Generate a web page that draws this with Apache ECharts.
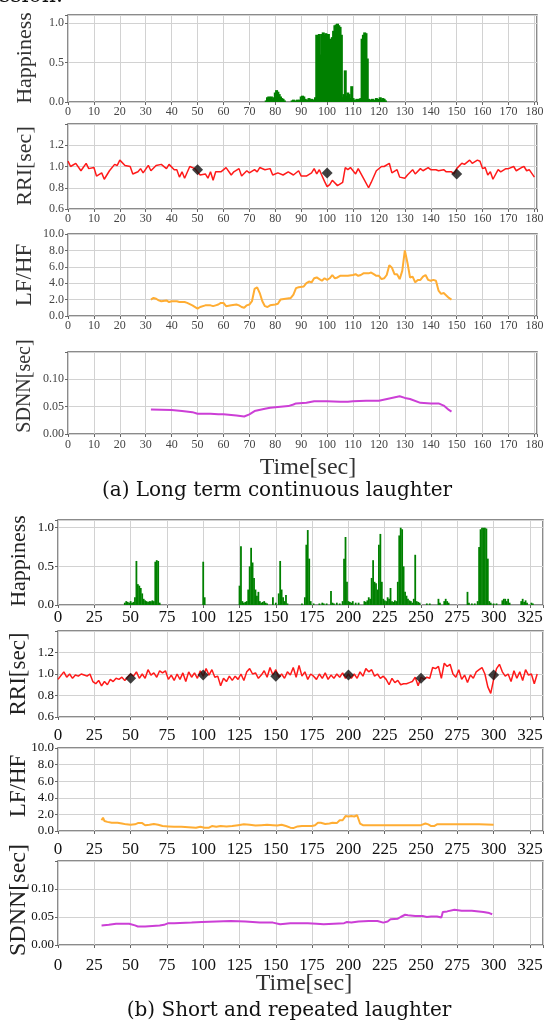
<!DOCTYPE html>
<html><head><meta charset="utf-8">
<script src="https://cdn.jsdelivr.net/npm/echarts/dist/echarts.min.js"></script>
<style>html,body{margin:0;padding:0;background:#fff;}#c{width:554px;height:1030px;}</style>
</head><body><div id="c"></div>
<script>
// ---------------- DATA ----------------
// (a) Long term continuous laughter
const happyA_t = [76.5,77,77.5,78,78.5,79,79.5,80,80.5,81,81.5,82,82.5,83,83.5,
86.5,87,87.5,88,88.5,89,89.5,90,90.5,91,91.5,92,92.5,93,93.5,94,94.5,95,95.5,
96,96.5,97,97.5,98,98.5,99,99.5,100,100.5,101,101.5,102,102.5,103,103.5,104,104.5,105,105.5,
106,106.5,107,107.5,108,108.5,109,109.5,110,110.5,111,111.5,112,112.5,113,113.5,114,114.5,115,115.5,
116,116.5,117,117.5,118,118.5,119,119.5,120,120.5,121,121.5,122,122.5];
const happyA_v = [0.02,0.06,0.07,0.05,0.07,0.04,0.06,0.12,0.15,0.13,0.10,0.07,0.05,0.04,0.02,
0.02,0.03,0.02,0.01,0.03,0.02,0.03,0.07,0.08,0.07,0.04,0.03,0.03,0.05,0.03,0.04,0.03,0.03,0.06,
0.85,0.84,0.86,0.60,0.86,0.88,0.85,0.87,0.82,0.86,0.80,0.78,0.82,0.90,0.97,0.98,0.99,0.97,0.95,0.85,
0.06,0.10,0.40,0.08,0.12,0.10,0.05,0.20,0.05,0.03,0.02,0.04,0.03,0.04,0.05,0.80,0.85,0.88,0.87,0.55,
0.04,0.03,0.03,0.04,0.02,0.03,0.05,0.04,0.03,0.06,0.03,0.05,0.04,0.02];

const rriA_t = [0,1,3,5,7,8,10,11,13,14,16,18,19,20,22,24,25,27,28,29,31,32,34,36,38,39,41,42,43,44,45,47,49,51,53,54,55,56,57,59,61,63,64,66,67,69,70,72,73,74,76,78,79,81,83,85,87,89,90,92,94,95,96,97,99,100,101,102,104,106,107,108,109,111,112,114,116,117,119,121,122,124,125,127,128,130,131,133,134,136,137,139,140,142,143,145,146,148,149,150,152,153,155,156,158,159,160,161,162,163,164,166,167,169,170,172,173,175,176,177,178,180];
const rriA_v = [1.05,1.00,1.03,0.96,1.03,0.98,0.99,0.91,0.94,0.88,0.96,1.02,1.01,1.06,1.01,1.00,0.93,0.95,0.98,0.94,1.01,0.96,1.01,1.02,0.98,1.02,0.97,0.97,0.90,0.95,0.89,1.00,0.98,0.92,0.93,0.89,0.95,0.87,0.95,0.95,0.99,0.92,0.95,0.98,0.91,0.96,0.94,0.97,0.95,0.99,0.97,0.98,0.92,0.94,0.92,0.95,0.92,0.96,0.91,0.91,0.94,0.98,0.93,0.97,0.86,0.81,0.83,0.87,0.82,0.85,0.99,0.97,0.99,0.93,0.98,0.89,0.80,0.85,0.96,1.00,1.00,1.03,0.94,0.97,0.90,0.89,0.92,0.97,0.93,0.98,0.96,0.99,0.97,0.97,0.96,0.97,0.95,0.95,0.93,0.98,1.03,1.02,1.06,1.03,1.06,1.05,0.98,0.99,0.92,0.95,0.88,0.97,0.95,0.98,0.98,1.00,0.96,0.99,1.00,0.96,0.97,0.90];
const markA_t = [50,100,150];
const markA_v = [0.97,0.94,0.93];

const lfhfA_t = [32,33,34,35,36,38,39,40,42,43,45,46,48,50,51,53,55,56,57,58,59,60,61,63,65,66,67,68,69,70,71,72,73,74,75,76,77,78,80,81,82,84,86,87,88,89,91,92,93,94,95,96,97,98,99,100,101,102,103,104,105,107,108,110,111,112,113,114,116,117,118,119,120,121,122,123,124,125,126,127,128,129,130,131,132,133,134,135,136,137,138,139,140,141,142,143,144,145,146,147,148];
const lfhfA_v = [2.0,2.2,2.1,1.9,1.8,1.9,1.7,1.8,1.8,1.7,1.7,1.6,1.3,0.9,1.1,1.3,1.3,1.2,1.3,1.4,1.6,1.6,1.2,1.3,1.4,1.3,1.1,1.0,1.3,1.4,1.8,3.3,3.5,2.8,1.8,1.2,1.1,1.3,1.4,1.5,2.0,2.1,2.2,2.6,3.4,3.5,3.6,4.0,4.2,4.1,4.6,4.7,4.5,4.3,4.6,4.4,4.6,5.0,4.6,4.7,4.9,4.9,4.9,5.0,5.1,4.9,5.0,5.2,5.2,5.3,5.1,4.9,4.9,4.5,4.6,5.0,6.2,5.9,5.1,5.1,4.5,5.5,8.0,6.5,4.7,4.8,4.1,4.4,4.4,4.8,5.0,4.4,4.3,4.4,4.3,3.1,2.7,2.8,2.5,2.2,2.0];

const sdnnA_t = [32,40,44,48,50,55,58,60,65,68,70,72,76,78,80,85,87,88,92,95,100,105,108,110,115,120,124,128,130,132,136,140,143,145,147,148];
const sdnnA_v = [0.045,0.044,0.042,0.040,0.037,0.037,0.036,0.036,0.034,0.032,0.036,0.042,0.046,0.048,0.049,0.051,0.054,0.056,0.057,0.060,0.060,0.059,0.059,0.060,0.061,0.061,0.065,0.069,0.066,0.064,0.057,0.056,0.056,0.052,0.044,0.041];

// (b) Short and repeated laughter
const happyB_t = [46,47,48,49,50,51,52,53,54,55,56,57,58,59,60,61,62,63,64,65,66,67,68,69,70,
100,101,
125,126,127,128,129,130,131,132,133,134,135,136,137,138,139,140,141,142,143,144,148,150,152,153,154,155,156,157,158,
168,170,171,172,173,174,176,180,182,183,185,188,189,190,192,194,196,197,198,199,200,201,202,203,205,207,
211,212,213,214,215,216,217,218,219,220,221,222,223,224,225,226,227,228,229,230,231,232,233,234,235,236,237,238,239,240,241,242,243,244,245,246,247,248,249,
254,256,262,263,266,267,268,269,
282,283,285,287,289,290,291,292,293,294,295,296,297,298,300,302,
306,307,308,309,310,311,319,320,321,322,323,326,327];
const happyB_v = [0.03,0.05,0.04,0.03,0.05,0.03,0.04,0.10,0.57,0.27,0.25,0.22,0.15,0.08,0.06,0.05,0.04,0.05,0.05,0.06,0.05,0.56,0.58,0.57,0.03,
0.56,0.10,
0.25,0.76,0.05,0.03,0.04,0.05,0.20,0.50,0.74,0.55,0.35,0.20,0.12,0.17,0.05,0.03,0.04,0.05,0.03,0.02,0.10,0.03,0.15,0.57,0.20,0.10,0.05,0.13,0.02,
0.02,0.10,0.78,0.97,0.60,0.05,0.02,0.02,0.03,0.02,0.02,0.18,0.03,0.02,0.03,0.02,0.05,0.60,0.88,0.30,0.05,0.04,0.03,0.05,0.03,0.03,
0.05,0.04,0.06,0.10,0.08,0.35,0.58,0.30,0.28,0.20,0.78,0.92,0.30,0.08,0.06,0.05,0.10,0.08,0.22,0.05,0.04,0.06,0.05,0.30,0.90,1.00,0.98,0.50,0.17,0.12,0.08,0.06,0.05,0.03,0.08,0.65,0.05,0.04,0.03,
0.02,0.02,0.08,0.03,0.05,0.08,0.05,0.03,
0.17,0.03,0.02,0.02,0.05,0.75,0.98,1.00,1.00,1.00,0.99,0.60,0.05,0.03,0.02,0.02,
0.06,0.08,0.08,0.05,0.08,0.03,0.05,0.08,0.04,0.06,0.03,0.03,0.02];

const rriB_t = [0,4,6,8,10,12,14,16,18,20,22,24,26,28,30,32,34,36,38,40,42,44,46,48,50,52,54,56,58,60,62,64,66,68,70,72,74,76,78,80,82,84,86,88,90,92,94,96,98,100,102,104,106,108,110,112,114,116,118,120,122,124,126,128,130,132,134,136,138,140,142,144,146,148,150,152,154,156,158,160,162,164,166,168,170,172,174,176,178,180,182,184,186,188,190,192,194,196,198,200,202,204,206,208,210,212,214,216,218,220,222,224,226,228,230,232,234,236,238,240,242,244,246,248,250,252,254,256,258,260,262,264,266,268,270,272,274,276,278,280,282,284,286,288,290,292,294,296,298,300,302,304,306,308,310,312,314,316,318,320,322,324,326,328,330];
const rriB_v = [0.95,1.02,0.97,1.00,0.96,0.99,0.98,1.00,0.99,0.98,1.00,0.93,0.91,0.94,0.89,0.93,0.90,0.95,0.93,0.96,0.95,0.97,0.94,0.97,1.00,0.98,1.02,0.96,1.00,0.96,1.04,0.99,1.01,0.97,1.03,1.01,1.03,0.95,0.99,0.94,1.00,0.95,1.01,0.93,1.02,0.97,1.01,0.96,1.03,0.98,1.05,0.99,1.04,0.97,0.98,0.89,0.96,0.93,0.98,0.94,0.98,0.95,1.00,0.94,1.02,1.05,1.00,1.01,0.96,0.99,1.03,0.97,1.06,0.99,1.04,0.97,1.00,0.96,1.02,0.99,1.06,0.97,1.08,0.98,1.02,0.95,1.00,0.98,0.95,1.00,0.96,1.01,0.95,0.99,0.96,1.00,0.97,1.01,0.96,1.00,0.96,1.00,0.96,1.02,0.98,1.05,1.02,1.04,0.98,1.00,0.96,0.98,0.95,0.90,0.96,0.92,0.94,0.90,0.91,0.91,0.92,0.93,0.97,0.89,0.97,0.95,0.97,0.96,1.06,1.05,1.07,0.96,1.10,1.07,1.09,1.00,0.97,1.04,0.95,0.99,0.92,0.99,0.96,1.02,1.04,1.06,1.00,0.88,0.82,0.95,1.05,1.09,1.02,0.98,1.00,0.93,1.03,0.96,1.02,0.94,1.04,0.99,1.00,0.91,1.00];
const markB_t = [50,100,150,200,250,300];
const markB_v = [0.96,0.99,0.98,0.99,0.96,0.99];

const lfhfB_t = [30,31,32,34,37,41,44,47,50,53,55,58,60,63,66,69,72,76,80,85,90,95,98,101,104,106,109,112,116,120,124,128,132,136,140,144,148,151,154,157,160,162,165,168,172,175,177,179,181,184,187,189,192,194,196,198,200,202,204,206,208,210,215,220,230,240,250,253,255,257,259,261,270,280,290,300];
const lfhfB_v = [1.3,1.6,1.2,1.1,1.0,1.0,0.9,0.8,0.75,0.8,0.95,0.95,0.7,0.75,0.85,0.75,0.6,0.55,0.5,0.5,0.45,0.4,0.5,0.4,0.4,0.6,0.5,0.6,0.55,0.6,0.7,0.8,0.75,0.65,0.7,0.75,0.7,0.65,0.75,0.6,0.4,0.35,0.55,0.6,0.6,0.6,0.7,1.0,1.0,0.85,0.9,1.0,0.95,1.3,1.3,1.8,1.75,1.8,1.75,1.9,0.9,0.7,0.7,0.7,0.7,0.7,0.7,0.9,0.8,0.6,0.6,0.8,0.8,0.8,0.8,0.75];

const sdnnB_t = [30,35,40,45,49,53,55,60,65,70,73,76,80,92,99,109,119,129,139,148,153,160,172,178,183,190,197,199,202,207,214,220,224,227,229,234,236,239,241,246,251,254,257,261,264,265,268,273,278,285,293,297,299];
const sdnnB_v = [0.035,0.036,0.038,0.038,0.038,0.035,0.033,0.033,0.034,0.035,0.036,0.039,0.039,0.040,0.041,0.042,0.043,0.042,0.040,0.040,0.037,0.039,0.039,0.038,0.037,0.038,0.039,0.041,0.040,0.042,0.043,0.043,0.040,0.042,0.046,0.047,0.050,0.054,0.053,0.052,0.052,0.050,0.051,0.051,0.049,0.059,0.060,0.063,0.061,0.061,0.059,0.057,0.055];

// Axis tick settings
const xTicksA = {min: 0, max: 181, step: 10};
const xTicksB = {min: 0, max: 334, step: 25};
const yHappy = {min: 0, max: 1.1, step: 0.5, dec: 1, name: 'Happiness'};
const yRRI   = {min: 0.6, max: 1.4, step: 0.2, dec: 1, name: 'RRI[sec]', hideMax: true};
const yLFHF  = {min: 0, max: 10, step: 2, dec: 1, name: 'LF/HF'};
const ySDNN  = {min: 0, max: 0.15, step: 0.05, dec: 2, name: 'SDNN[sec]', hideMax: true};

// ---------------- CHART ----------------
const zip = (t, v) => t.map((x, i) => [x, v[i]]);
const SERIF = '"Liberation Serif","Times New Roman",serif';
const CAP = '"DejaVu Serif",serif';

const layout = [
  // panel a
  {left: 68, width: 469, top: 15,  height: 87, xt: xTicksA, yt: yHappy, xfs: 12, xm: 4, yfs: 12, lc: '#444', bw: 3},
  {left: 68, width: 469, top: 124, height: 85, xt: xTicksA, yt: yRRI,   xfs: 12, xm: 4, yfs: 12, lc: '#444'},
  {left: 68, width: 469, top: 234, height: 82, xt: xTicksA, yt: yLFHF,  xfs: 12, xm: 4, yfs: 12, lc: '#444'},
  {left: 68, width: 469, top: 352, height: 82, xt: xTicksA, yt: ySDNN,  xfs: 12, xm: 5, yfs: 12, lc: '#444'},
  // panel b
  {left: 58, width: 485, top: 520, height: 85, xt: xTicksB, yt: yHappy, xfs: 17, xm: 4, yfs: 13, lc: '#111', bw: 1.8},
  {left: 58, width: 485, top: 631, height: 86, xt: xTicksB, yt: yRRI,   xfs: 17, xm: 10, yfs: 13, lc: '#111'},
  {left: 58, width: 485, top: 748, height: 83, xt: xTicksB, yt: yLFHF,  xfs: 17, xm: 10, yfs: 13, lc: '#111'},
  {left: 58, width: 485, top: 861, height: 84, xt: xTicksB, yt: ySDNN,  xfs: 17, xm: 12, yfs: 13, lc: '#111'}
];

const isMult = (v, s) => Math.abs(v / s - Math.round(v / s)) < 1e-6;

const grids = [], xAxes = [], yAxes = [];
layout.forEach((L, i) => {
  grids.push({left: L.left, top: L.top, width: L.width, height: L.height, show: true,
    borderColor: '#666', borderWidth: 1.5, backgroundColor: 'transparent', containLabel: false});
  xAxes.push({type: 'value', gridIndex: i, min: L.xt.min, max: L.xt.max, interval: L.xt.step,
    axisLine: {show: false}, axisTick: {show: true, length: 3, lineStyle: {color: '#666'}},
    splitLine: {show: true, lineStyle: {color: '#d2d2d2', width: 1}},
    axisLabel: {fontFamily: SERIF, fontSize: L.xfs, color: L.lc, margin: L.xm,
      showMinLabel: true, showMaxLabel: true, hideOverlap: false,
      formatter: v => isMult(v, L.xt.step) ? String(Math.round(v)) : ''}});
  const yt = L.yt;
  yAxes.push({type: 'value', gridIndex: i, min: yt.min, max: yt.max, interval: yt.step,
    axisLine: {show: false}, axisTick: {show: true, length: 3, lineStyle: {color: '#666'}},
    splitLine: {show: true, lineStyle: {color: '#d2d2d2', width: 1}},
    axisLabel: {fontFamily: SERIF, fontSize: L.yfs, color: L.lc, margin: 4, hideOverlap: false,
      showMinLabel: true, showMaxLabel: true,
      formatter: v => {
        if (!isMult(v, yt.step)) return '';
        if (yt.hideMax && Math.abs(v - yt.max) < 1e-9) return '';
        return v.toFixed(yt.dec);
      }}});
});

const barS = (idx, t, v) => ({type: 'bar', xAxisIndex: idx, yAxisIndex: idx, data: zip(t, v),
  barWidth: layout[idx].bw, itemStyle: {color: '#008000'}, animation: false, silent: true});
const lineS = (idx, t, v, color, w) => ({type: 'line', xAxisIndex: idx, yAxisIndex: idx, data: zip(t, v),
  showSymbol: false, symbol: 'none', lineStyle: {color: color, width: w}, itemStyle: {color: color},
  animation: false, silent: true});
const markS = (idx, t, v) => ({type: 'scatter', xAxisIndex: idx, yAxisIndex: idx, data: zip(t, v),
  symbol: 'diamond', symbolSize: [11, 11], itemStyle: {color: '#111'}, z: 5, animation: false, silent: true});

const RED = '#ff1a1a', ORANGE = '#ffad33', MAGENTA = '#cc3fd6';
const series = [
  barS(0, happyA_t, happyA_v),
  lineS(1, rriA_t, rriA_v, RED, 1.5), markS(1, markA_t, markA_v),
  lineS(2, lfhfA_t, lfhfA_v, ORANGE, 2),
  lineS(3, sdnnA_t, sdnnA_v, MAGENTA, 2),
  barS(4, happyB_t, happyB_v),
  lineS(5, rriB_t, rriB_v, RED, 1.5), markS(5, markB_t, markB_v),
  lineS(6, lfhfB_t, lfhfB_v, ORANGE, 2),
  lineS(7, sdnnB_t, sdnnB_v, MAGENTA, 2)
];

const vText = (x, y, txt, size, color) => ({type: 'text', x: x, y: y, rotation: Math.PI / 2,
  style: {text: txt, fontFamily: SERIF, fontSize: size, fill: color, align: 'center', verticalAlign: 'middle'}});
const hText = (x, y, txt, size, family, color) => ({type: 'text', x: x, y: y,
  style: {text: txt, fontFamily: family, fontSize: size, fill: color, align: 'center', verticalAlign: 'middle'}});

const graphics = [
  {type: 'text', x: -1, y: 7, style: {text: 'ssion.', fontFamily: CAP, fontSize: 22, fill: '#111', align: 'left', verticalAlign: 'bottom'}},
  vText(25, 58, yHappy.name, 22, '#333'),
  vText(25, 166, yRRI.name, 22, '#333'),
  vText(25, 275, yLFHF.name, 23, '#333'),
  vText(25, 386, ySDNN.name, 20, '#333'),
  hText(308, 468, 'Time[sec]', 24, SERIF, '#333'),
  hText(277, 491, '(a) Long term continuous laughter', 20, CAP, '#111'),
  vText(19, 561, yHappy.name, 22, '#222'),
  vText(19, 674, yRRI.name, 23, '#222'),
  vText(19, 786, yLFHF.name, 23, '#222'),
  vText(19, 900, ySDNN.name, 24, '#222'),
  hText(304, 984, 'Time[sec]', 24, SERIF, '#333'),
  hText(289, 1011, '(b) Short and repeated laughter', 20, CAP, '#111')
];

const chart = echarts.init(document.getElementById('c'), null, {renderer: 'canvas'});
chart.setOption({
  animation: false,
  backgroundColor: '#fff',
  grid: grids, xAxis: xAxes, yAxis: yAxes, series: series, graphic: graphics
});
</script></body></html>
